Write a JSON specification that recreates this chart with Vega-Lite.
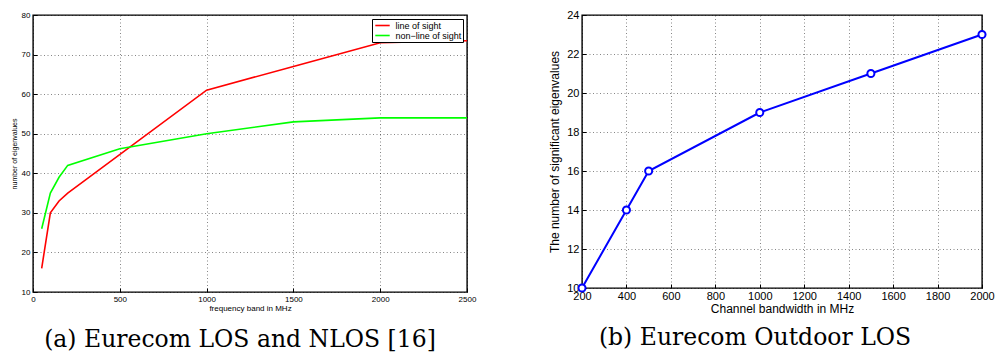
{
  "$schema": "https://vega.github.io/schema/vega-lite/v6.json",
  "background": "white",
  "padding": {"left": 9, "top": 8, "right": 10, "bottom": 2},
  "spacing": 71,
  "resolve": {"legend": {"color": "independent"}, "scale": {"color": "independent"}},
  "config": {
    "font": "Liberation Sans",
    "view": {"stroke": "black", "strokeWidth": 1.4},
    "axis": {
      "grid": true,
      "gridColor": "#000000",
      "gridDash": [1, 2.5],
      "gridOpacity": 0.6,
      "gridWidth": 0.8,
      "domain": false,
      "ticks": true,
      "tickSize": -4,
      "tickColor": "#000000",
      "tickWidth": 1,
      "labelFlush": false,
      "labelColor": "#000000",
      "titleColor": "#000000",
      "titleFontWeight": "normal"
    }
  },
  "hconcat": [
    {
      "width": 434,
      "height": 277,
      "title": {
        "text": "(a) Eurecom LOS and NLOS [16]",
        "orient": "bottom",
        "font": "DejaVu Serif",
        "fontSize": 23.5,
        "fontWeight": "normal",
        "color": "#000000",
        "offset": 16,
        "dx": -10
      },
      "data": {
        "values": [
          {"series": "line of sight", "freq": 50, "eig": 16},
          {"series": "line of sight", "freq": 100, "eig": 30},
          {"series": "line of sight", "freq": 150, "eig": 33},
          {"series": "line of sight", "freq": 200, "eig": 35},
          {"series": "line of sight", "freq": 1000, "eig": 61},
          {"series": "line of sight", "freq": 1500, "eig": 67},
          {"series": "line of sight", "freq": 2000, "eig": 73},
          {"series": "line of sight", "freq": 2500, "eig": 73.5},
          {"series": "non−line of sight", "freq": 50, "eig": 26},
          {"series": "non−line of sight", "freq": 100, "eig": 35},
          {"series": "non−line of sight", "freq": 150, "eig": 39},
          {"series": "non−line of sight", "freq": 200, "eig": 42},
          {"series": "non−line of sight", "freq": 500, "eig": 46.2},
          {"series": "non−line of sight", "freq": 1000, "eig": 50},
          {"series": "non−line of sight", "freq": 1500, "eig": 53},
          {"series": "non−line of sight", "freq": 2000, "eig": 54},
          {"series": "non−line of sight", "freq": 2500, "eig": 54}
        ]
      },
      "mark": {"type": "line", "strokeWidth": 1.6},
      "encoding": {
        "x": {
          "field": "freq",
          "type": "quantitative",
          "scale": {"domain": [0, 2500], "nice": false},
          "axis": {
            "values": [0, 500, 1000, 1500, 2000, 2500],
            "format": "d",
            "title": "frequency band in MHz",
            "labelFontSize": 8,
            "titleFontSize": 8,
            "labelPadding": 7,
            "titlePadding": 1
          }
        },
        "y": {
          "field": "eig",
          "type": "quantitative",
          "scale": {"domain": [10, 80], "nice": false},
          "axis": {
            "values": [10, 20, 30, 40, 50, 60, 70, 80],
            "title": "number of eigenvalues",
            "labelFontSize": 8,
            "titleFontSize": 7,
            "labelPadding": 7,
            "titlePadding": 4
          }
        },
        "color": {
          "field": "series",
          "type": "nominal",
          "scale": {"domain": ["line of sight", "non−line of sight"], "range": ["#ff0000", "#00ff00"]},
          "legend": {
            "orient": "top-right",
            "title": null,
            "offset": 4,
            "symbolType": "M-1.8,0H1.8",
            "symbolStrokeWidth": 1.6,
            "symbolSize": 64,
            "symbolOffset": 4,
            "labelOffset": 8,
            "labelFontSize": 9,
            "labelColor": "#000000",
            "rowPadding": 0,
            "padding": 1.5,
            "strokeColor": "#000000",
            "fillColor": "#ffffff"
          }
        }
      }
    },
    {
      "width": 400,
      "height": 273,
      "title": {
        "text": "(b) Eurecom Outdoor LOS",
        "orient": "bottom",
        "font": "DejaVu Serif",
        "fontSize": 23.5,
        "fontWeight": "normal",
        "color": "#000000",
        "offset": 12,
        "dx": -27
      },
      "data": {
        "values": [
          {"bw": 200, "n": 10},
          {"bw": 400, "n": 14},
          {"bw": 500, "n": 16},
          {"bw": 1000, "n": 19},
          {"bw": 1500, "n": 21},
          {"bw": 2000, "n": 23}
        ]
      },
      "mark": {
        "type": "line",
        "color": "#0000ff",
        "strokeWidth": 2,
        "point": {"filled": false, "fill": "#ffffff", "stroke": "#0000ff", "strokeWidth": 2, "size": 50}
      },
      "encoding": {
        "x": {
          "field": "bw",
          "type": "quantitative",
          "scale": {"domain": [200, 2000], "nice": false},
          "axis": {
            "values": [200, 400, 600, 800, 1000, 1200, 1400, 1600, 1800, 2000],
            "format": "d",
            "title": "Channel bandwidth in MHz",
            "labelFontSize": 11,
            "titleFontSize": 12,
            "labelPadding": 6,
            "titlePadding": 2
          }
        },
        "y": {
          "field": "n",
          "type": "quantitative",
          "scale": {"domain": [10, 24], "nice": false},
          "axis": {
            "values": [10, 12, 14, 16, 18, 20, 22, 24],
            "title": "The number of significant eigenvalues",
            "labelFontSize": 11,
            "titleFontSize": 12,
            "labelPadding": 7,
            "titlePadding": 5
          }
        }
      }
    }
  ]
}
